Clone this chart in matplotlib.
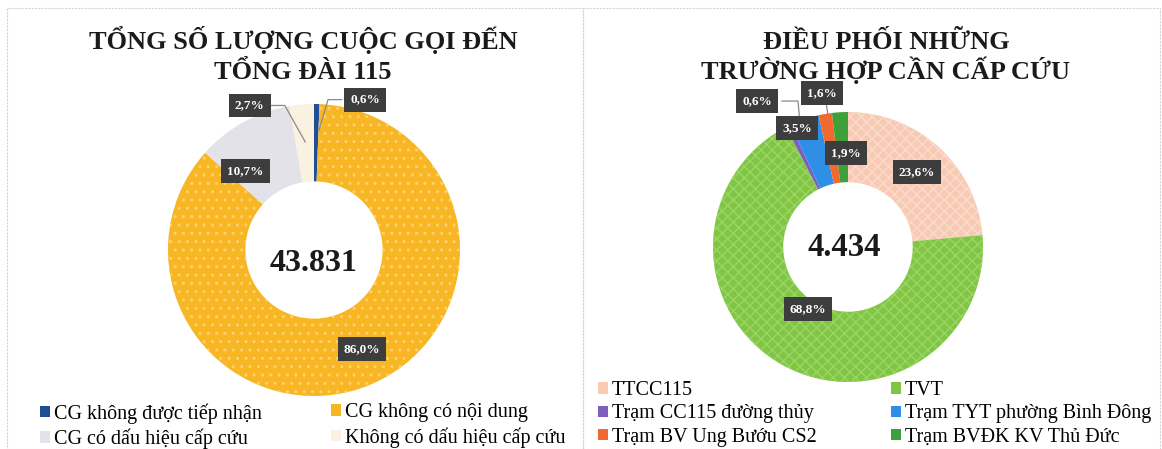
import matplotlib
matplotlib.use('Agg')
import matplotlib.pyplot as plt
from matplotlib.patches import Patch, Rectangle

plt.rcParams['font.family'] = ['Liberation Serif', 'DejaVu Serif']
plt.rcParams['hatch.linewidth'] = 1.0

# Data
calls_title = ['TỔNG SỐ LƯỢNG CUỘC GỌI ĐẾN', 'TỔNG ĐÀI 115']
calls_total = '43.831'
calls_labels = ['CG không được tiếp nhận', 'CG không có nội dung',
                'CG có dấu hiệu cấp cứu', 'Không có dấu hiệu cấp cứu']
calls_pct = [0.6, 86.0, 10.7, 2.7]
calls_colors = ['#1f4e96', '#f8b624', '#e2e2e8', '#fbf1e1']
calls_hatch_colors = ['#1f4e96', '#fbd36e', '#e2e2e8', '#fbf1e1']

disp_title = ['ĐIỀU PHỐI NHỮNG', 'TRƯỜNG HỢP CẦN CẤP CỨU']
disp_total = '4.434'
disp_labels = ['TTCC115', 'TVT', 'Trạm CC115 đường thủy',
               'Trạm TYT phường Bình Đông', 'Trạm BV Ung Bướu CS2',
               'Trạm BVĐK KV Thủ Đức']
disp_pct = [23.6, 68.8, 0.6, 3.5, 1.6, 1.9]
disp_colors = ['#f8cab4', '#80c644', '#7d5fbf', '#2f8ee6', '#f06a30', '#3f9f3a']
disp_hatch_colors = ['#fbdccc', '#9dd466', '#7d5fbf', '#2f8ee6', '#f06a30', '#3f9f3a']

W, H = 1162, 449
fig = plt.figure(figsize=(W / 100, H / 100), dpi=100)
fig.patch.set_facecolor('white')


def fx(x):
    return x / W


def fy(y):
    return 1 - y / H


def donut_axes(cx, cy, r):
    return fig.add_axes([fx(cx - r), fy(cy + r), 2 * r / W, 2 * r / H])


def pct_text(v):
    return '{0:.1f}%'.format(v).replace('.', ',')


def draw_donut(ax, values, colors, hatch_colors, hatches, width):
    wedges, _ = ax.pie(values, colors=colors, startangle=90, counterclock=False,
                       radius=1.0, wedgeprops=dict(width=width, linewidth=0))
    for w, hc, hp in zip(wedges, hatch_colors, hatches):
        if hp:
            w.set_hatch(hp)
            w.set_edgecolor(hc)
            w.set_linewidth(0)
    ax.set_xlim(-1, 1)
    ax.set_ylim(-1, 1)
    ax.set_aspect('auto')
    ax.axis('off')
    return wedges


def column_legend(handles, labels, x, ytop, spacing):
    fig.legend(handles, labels, loc='upper left',
               bbox_to_anchor=(fx(x), fy(ytop)), frameon=False,
               fontsize=14.5, handlelength=0.5, handleheight=0.5,
               handletextpad=0.2, labelspacing=spacing, borderpad=0,
               borderaxespad=0)


box = dict(boxstyle='square,pad=0.45', fc='#3d3d3d', ec='none')

# panel borders
for x0, x1 in [(7, 583), (583, 1160)]:
    fig.patches.append(Rectangle((fx(x0), 0), fx(x1) - fx(x0), fy(8),
                                 transform=fig.transFigure, fill=False,
                                 ec='#d4d4d4', lw=0.8, ls=(0, (2, 1))))

# ---- left chart ----
ax1 = donut_axes(314, 250, 146)
draw_donut(ax1, calls_pct, calls_colors, calls_hatch_colors,
           [None, '..', None, None], 0.53)
ax1.text(0, -0.09, calls_total, ha='center', va='center', fontsize=23,
         fontweight='bold', color='#1a1a1a')
left_pos = [(0.35, 1.03), (0.33, -0.68), (-0.47, 0.54), (-0.44, 0.99)]
for v, (x, y) in zip(calls_pct, left_pos):
    ax1.text(x, y, pct_text(v), ha='center', va='center', fontsize=9.5,
             fontweight='bold', color='white', bbox=box, clip_on=False)
ax1.plot([0.19, 0.096, 0.034], [1.03, 1.03, 0.82], color='#8a8a8a', lw=0.9,
         clip_on=False)
ax1.plot([-0.29, -0.2, -0.06], [0.99, 0.99, 0.74], color='#8a8a8a', lw=0.9,
         clip_on=False)
for line, y in zip(calls_title, [49, 79]):
    fig.text(fx(303), fy(y), line, ha='center', va='baseline', fontsize=19,
             fontweight='bold', color='#1a1a1a')

h1 = [Patch(facecolor=c, edgecolor='none') for c in calls_colors]
column_legend([h1[0], h1[2]], [calls_labels[0], calls_labels[2]], 40, 403, 0.25)
column_legend([h1[1], h1[3]], [calls_labels[1], calls_labels[3]], 331, 403, 0.25)

# ---- right chart ----
ax2 = donut_axes(848, 247, 135)
draw_donut(ax2, disp_pct, disp_colors, disp_hatch_colors,
           ['xxx', 'xxx', None, None, None, None], 0.52)
ax2.text(-0.03, 0.0, disp_total, ha='center', va='center', fontsize=23.5,
         fontweight='bold', color='#1a1a1a')
right_pos = [(0.511, 0.556), (-0.296, -0.459), (-0.674, 1.081),
             (-0.378, 0.881), (-0.193, 1.141), (-0.015, 0.696)]
ax2.plot([-0.49, -0.37, -0.36], [1.081, 1.081, 0.96], color='#8a8a8a', lw=0.9,
         clip_on=False)
ax2.plot([-0.163, -0.15], [1.07, 0.99], color='#8a8a8a', lw=0.9,
         clip_on=False)
for v, (x, y) in zip(disp_pct, right_pos):
    ax2.text(x, y, pct_text(v), ha='center', va='center', fontsize=9.5,
             fontweight='bold', color='white', bbox=box, clip_on=False)
for line, y in zip(disp_title, [49, 79]):
    fig.text(fx(886), fy(y), line, ha='center', va='baseline', fontsize=19,
             fontweight='bold', color='#1a1a1a')

h2 = [Patch(facecolor=c, edgecolor='none') for c in disp_colors]
column_legend([h2[0], h2[2], h2[4]],
              [disp_labels[0], disp_labels[2], disp_labels[4]], 598, 381, 0.22)
column_legend([h2[1], h2[3], h2[5]],
              [disp_labels[1], disp_labels[3], disp_labels[5]], 891, 381, 0.22)

fig.savefig('out.png', dpi=100, facecolor='white')
